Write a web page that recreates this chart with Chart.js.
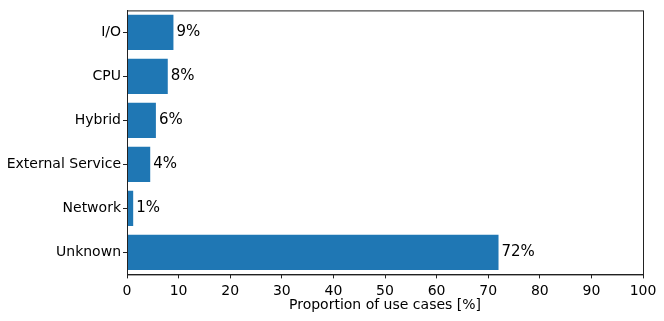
<!DOCTYPE html>
<html>
<head>
<meta charset="utf-8">
<script src="https://cdn.jsdelivr.net/npm/chart.js@4.4.1/dist/chart.umd.min.js"></script>
<style>
  html, body { margin: 0; padding: 0; background: #fff; }
  #wrap { width: 664px; height: 321px; }
</style>
</head>
<body>
<div id="wrap"><canvas id="chart" width="664" height="321"></canvas></div>
<script>
// Dados do gráfico
const categories = ['I/O', 'CPU', 'Hybrid', 'External Service', 'Network', 'Unknown'];
const proportions = [9.0, 7.9, 5.6, 4.5, 1.2, 72.0];
const valueLabels = ['9%', '8%', '6%', '4%', '1%', '72%'];
const xTicks = [0, 10, 20, 30, 40, 50, 60, 70, 80, 90, 100];

const FONT = "'DejaVu Sans', sans-serif";

// Moldura completa em volta da área do gráfico
const framePlugin = {
  id: 'frame',
  afterDraw(chart) {
    const { ctx, chartArea: a } = chart;
    ctx.save();
    ctx.strokeStyle = '#222';
    ctx.lineWidth = 1;
    ctx.strokeRect(a.left + 0.5, a.top + 0.5, a.right - a.left, a.bottom - a.top);
    ctx.restore();
  }
};

// Rótulos de valor ao lado das barras
const valueLabelPlugin = {
  id: 'valueLabels',
  afterDatasetsDraw(chart) {
    const { ctx } = chart;
    const meta = chart.getDatasetMeta(0);
    ctx.save();
    ctx.font = '15px ' + FONT;
    ctx.fillStyle = '#000';
    ctx.textAlign = 'left';
    ctx.textBaseline = 'middle';
    meta.data.forEach((bar, i) => {
      ctx.fillText(valueLabels[i], bar.x + 3, bar.y);
    });
    ctx.restore();
  }
};

new Chart(document.getElementById('chart'), {
  type: 'bar',
  data: {
    labels: categories,
    datasets: [{
      data: proportions,
      backgroundColor: '#1f77b4',
      borderColor: '#5b9bc8',
      borderWidth: 0,
      barPercentage: 0.8,
      categoryPercentage: 1.0
    }]
  },
  options: {
    indexAxis: 'y',
    responsive: false,
    animation: false,
    layout: { padding: { left: 0, right: 21, top: 10, bottom: 7 } },
    plugins: {
      legend: { display: false },
      tooltip: { enabled: false }
    },
    scales: {
      x: {
        min: 0,
        max: 100,
        afterBuildTicks(scale) {
          scale.ticks = xTicks.map(v => ({ value: v }));
        },
        grid: { drawOnChartArea: false, drawTicks: true, tickLength: 4, color: '#222' },
        border: { display: true, color: '#222' },
        ticks: { color: '#000', padding: 5, maxRotation: 0, font: { family: FONT, size: 14 } },
        title: {
          display: true,
          text: 'Proportion of use cases [%]',
          color: '#000',
          padding: { top: -8, bottom: 0 },
          font: { family: FONT, size: 14 }
        }
      },
      y: {
        afterFit(scale) { scale.width = 127; },
        grid: { offset: false, drawOnChartArea: false, drawTicks: true, tickLength: 4, color: '#222' },
        border: { display: true, color: '#222' },
        ticks: { color: '#000', padding: 2, font: { family: FONT, size: 14 } }
      }
    }
  },
  plugins: [framePlugin, valueLabelPlugin]
});
</script>
</body>
</html>
